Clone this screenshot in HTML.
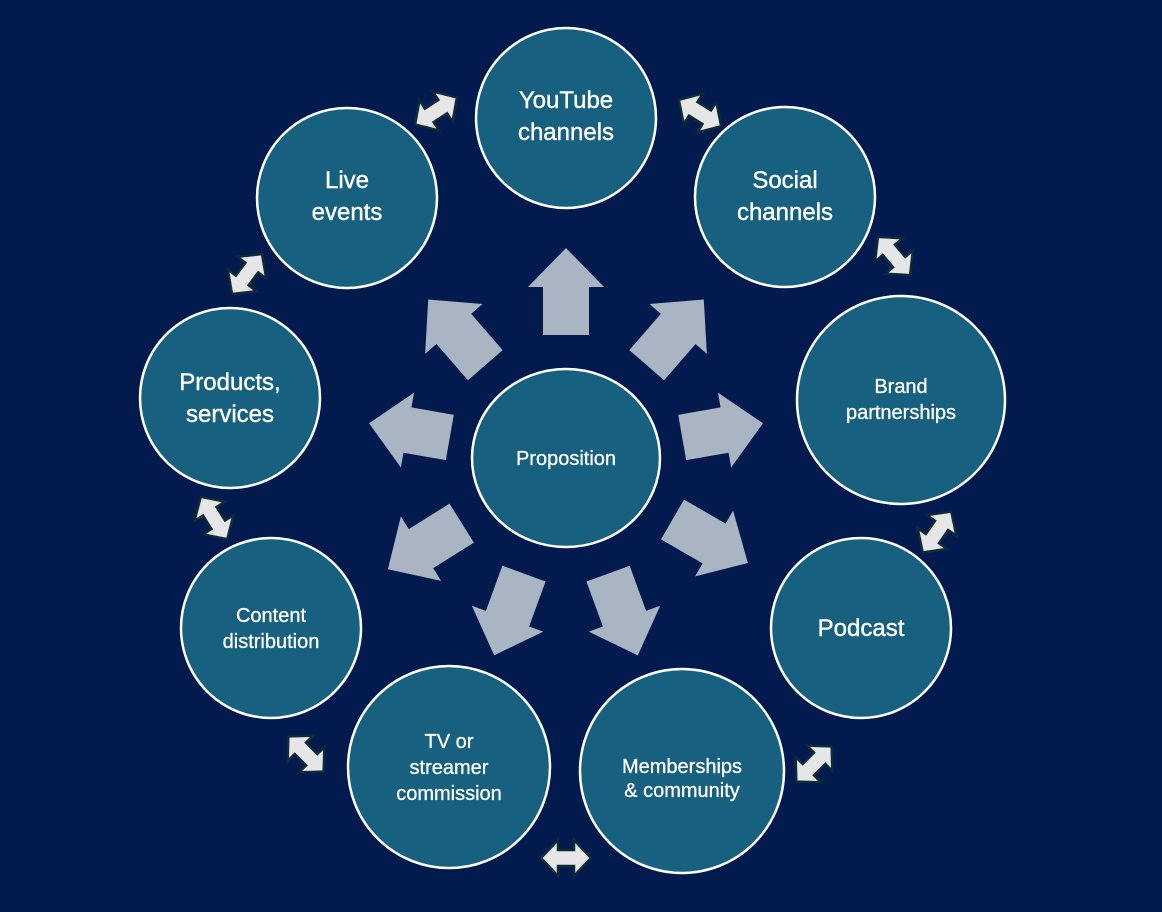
<!DOCTYPE html>
<html><head><meta charset="utf-8"><style>
html,body{margin:0;padding:0;background:#021a4e;}
svg{display:block}
text{font-family:"Liberation Sans",sans-serif;fill:#fff;text-anchor:middle}
</style></head><body>
<svg width="1162" height="912" viewBox="0 0 1162 912">
<rect width="1162" height="912" fill="#021a4e"/>
<defs>
<polygon id="ca" points="0,-210 38,-171 23,-171 23,-123 -23,-123 -23,-171 -38,-171" fill="#a9b5c3"/>
<polygon id="cb" points="0,-200 38,-161 23,-161 23,-118 -23,-118 -23,-161 -38,-161" fill="#a9b5c3"/>
<polygon id="da" points="-25,0 -8,-18 -8,-8 8,-8 8,-18 25,0 8,18 8,8 -8,8 -8,18" fill="#e6e6e6" stroke="#0d2a38" stroke-width="2.5" stroke-linejoin="miter"/>
</defs>
<g transform="translate(566,458)">
<use href="#ca" transform="rotate(0)"/>
<use href="#ca" transform="rotate(41)"/>
<use href="#cb" transform="rotate(80)"/>
<use href="#ca" transform="rotate(120)"/>
<use href="#ca" transform="rotate(160)"/>
<use href="#ca" transform="rotate(200)"/>
<use href="#ca" transform="rotate(238)"/>
<use href="#cb" transform="rotate(280)"/>
<use href="#ca" transform="rotate(319)"/>
</g>
<g>
<use href="#da" transform="translate(436,111) rotate(-33)"/>
<use href="#da" transform="translate(700,113) rotate(32)"/>
<use href="#da" transform="translate(894,256) rotate(50)"/>
<use href="#da" transform="translate(247,274) rotate(-53)"/>
<use href="#da" transform="translate(214,518) rotate(58)"/>
<use href="#da" transform="translate(937,532) rotate(-55)"/>
<use href="#da" transform="translate(306,754) rotate(45)"/>
<use href="#da" transform="translate(814,764) rotate(-45)"/>
<use href="#da" transform="translate(566,858) rotate(0)"/>
</g>
<g fill="#17607f" stroke="#fff" stroke-width="2.5">
<circle cx="566" cy="118" r="90"/>
<circle cx="347" cy="198" r="90"/>
<circle cx="785" cy="197" r="90"/>
<circle cx="230" cy="398" r="90"/>
<circle cx="901" cy="400" r="104"/>
<ellipse cx="566" cy="458" rx="94" ry="89"/>
<circle cx="271" cy="628" r="90"/>
<circle cx="861" cy="628" r="90"/>
<circle cx="449" cy="767" r="101"/>
<circle cx="682" cy="771" r="102"/>
</g>
<g font-size="24" font-weight="500" stroke="#fff" stroke-width="0.4">
<text x="566" y="108">YouTube</text><text x="566" y="140">channels</text>
<text x="347" y="188">Live</text><text x="347" y="220">events</text>
<text x="785" y="188">Social</text><text x="785" y="220">channels</text>
<text x="230" y="390">Products,</text><text x="230" y="422">services</text>
<text x="861" y="636">Podcast</text>
</g>
<g font-size="20" stroke="#fff" stroke-width="0.3">
<text x="901" y="393">Brand</text><text x="901" y="419">partnerships</text>
<text x="566" y="465">Proposition</text>
<text x="271" y="622">Content</text><text x="271" y="648">distribution</text>
<text x="449" y="748">TV or</text><text x="449" y="774">streamer</text><text x="449" y="800">commission</text>
<text x="682" y="773">Memberships</text><text x="682" y="797">&amp; community</text>
</g>
</svg>
</body></html>
